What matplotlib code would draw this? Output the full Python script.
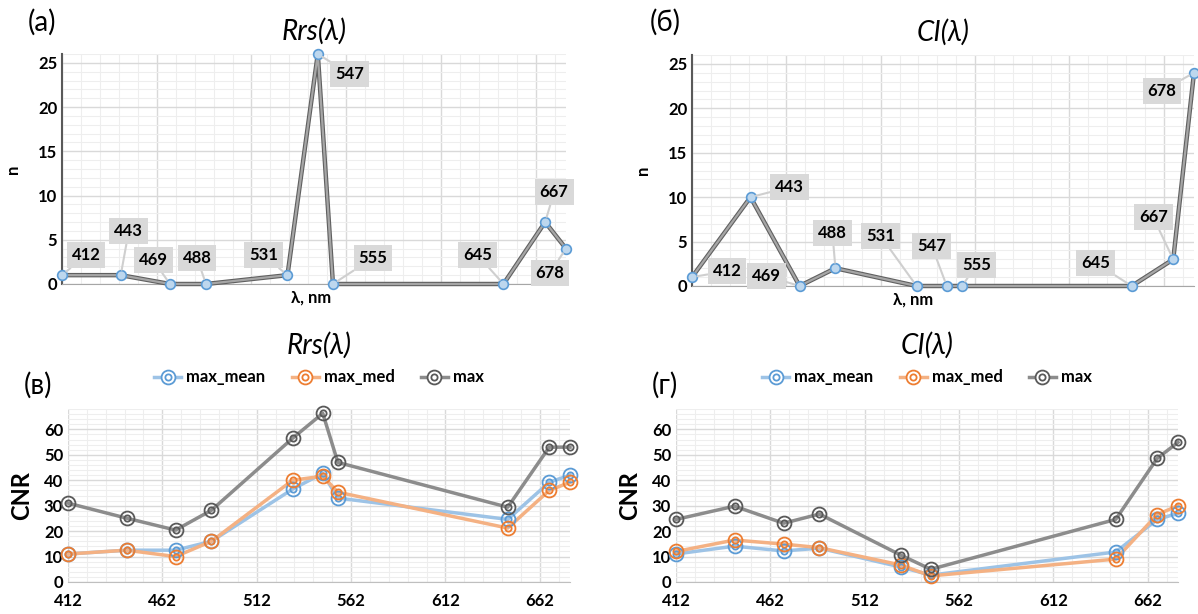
import numpy as np
import matplotlib
matplotlib.use('Agg')
import matplotlib.pyplot as plt
from matplotlib.lines import Line2D
from matplotlib.ticker import MultipleLocator

plt.rcParams['font.family'] = ['Lato', 'Open Sans', 'DejaVu Sans']

# wavelengths, nm
wl = [412, 443, 469, 488, 531, 547, 555, 645, 667, 678]
wl_ci = [412, 443, 469, 488, 531, 547, 645, 667, 678]

# top row: number of hits per band
n_rrs = [1, 1, 0, 0, 1, 26, 0, 0, 7, 4]
n_ci = [1, 10, 0, 2, 0, 0, 0, 0, 3, 24]

# label offsets (pixels) for the band labels
off_rrs = [(24, 20), (8, 44), (-17, 24), (-9, 26), (-24, 20), (32, -20),
           (40, 26), (-26, 29), (9, 30), (-16, -24)]
off_ci = [(35, 6), (39, 10), (-33, 10), (-3, 35), (-36, 50), (-15, 40),
          (15, 21), (-36, 23), (-20, 42), (-32, -18)]

# bottom row: CNR
rrs_mean = [11, 12.5, 12.5, 16, 36.5, 42.7, 33, 24.6, 39.2, 42]
rrs_med = [11, 12.5, 10, 16, 40, 41.6, 35.3, 21.2, 36, 39.2]
rrs_max = [31, 25.1, 20.4, 28.2, 56.5, 66.3, 47, 29.4, 53, 53]

ci_mean = [11, 14.1, 12.2, 13.3, 5.9, 2.7, 11.8, 24.6, 27]
ci_med = [12, 16.5, 14.9, 13.5, 6.7, 2.4, 9, 26.5, 30]
ci_max = [24.6, 29.8, 23.1, 26.7, 10.6, 5, 24.6, 48.6, 54.9]

series_names = ['max_mean', 'max_med', 'max']
series_cols = ['#5b9bd5', '#ed7d31', '#595959']
line_cols = ['#9dc3e6', '#f4b183', '#8c8c8c']

fig = plt.figure(figsize=(11.98, 6.14), dpi=100)
W, H = 1198., 614.

def px_axes(x0, x1, y_top, y_bot):
    return fig.add_axes([x0 / W, 1 - y_bot / H, (x1 - x0) / W, (y_bot - y_top) / H])

def grid_setup(ax, ymaj, ymin):
    ax.set_xlim(412, 678)
    ax.xaxis.set_major_locator(MultipleLocator(50, offset=412))
    ax.xaxis.set_minor_locator(MultipleLocator(10, offset=412))
    ax.yaxis.set_major_locator(MultipleLocator(ymaj))
    ax.yaxis.set_minor_locator(MultipleLocator(ymin))
    ax.grid(which='major', color='#d9d9d9', lw=1.0)
    ax.grid(which='minor', color='#eeeeee', lw=0.8)
    ax.set_axisbelow(True)
    for s in ['top', 'right']:
        ax.spines[s].set_visible(False)
    ax.tick_params(which='both', length=0)
    for t in ax.get_yticklabels():
        t.set_fontweight('bold')
        t.set_fontsize(12)

def top_panel(ax, vals, offs, title, xlab_x):
    grid_setup(ax, 5, 1)
    ax.set_ylim(0, 26)
    ax.set_xticklabels([])
    ax.spines['left'].set_color('#595959')
    ax.spines['left'].set_linewidth(1.5)
    ax.spines['bottom'].set_color('#a6a6a6')
    ax.plot(wl, vals, color='#606060', lw=3.2, zorder=3, clip_on=False)
    ax.plot(wl, vals, color='#a6a6a6', lw=1.6, zorder=3, clip_on=False)
    ax.plot(wl, vals, ls='', marker='o', ms=7, mfc='#bdd7ee', mec='#5b9bd5',
            mew=1.2, zorder=4, clip_on=False)
    for x, y, (dx, dy) in zip(wl, vals, offs):
        ax.annotate(str(x), (x, y), xytext=(dx, dy), textcoords='offset pixels',
                    ha='center', va='center', fontsize=12, fontweight='bold',
                    bbox=dict(boxstyle='square,pad=0.3', fc='#d9d9d9', ec='none'),
                    arrowprops=dict(arrowstyle='-', color='#cfcfcf', lw=1.5,
                                    shrinkA=0, shrinkB=4),
                    zorder=5, annotation_clip=False)
    ax.set_ylabel('n', fontweight='bold', fontsize=12, labelpad=12)
    ax.set_xlabel('λ, nm', fontweight='bold', fontsize=12, labelpad=2)
    ax.xaxis.set_label_coords(xlab_x, -0.025, transform=ax.transAxes)
    ax.set_title(title, fontsize=20, fontstyle='italic', pad=10)

def bottom_panel(ax, x, series, title):
    grid_setup(ax, 10, 2)
    ax.set_ylim(0, 68)
    ax.spines['left'].set_visible(False)
    ax.spines['bottom'].set_color('#bfbfbf')
    ax.set_xticks([412, 462, 512, 562, 612, 662])
    ax.tick_params(axis='x', pad=8)
    for t in ax.get_xticklabels():
        t.set_fontweight('bold')
        t.set_fontsize(12)
    handles = []
    for vals, c, lc, name in zip(series, series_cols, line_cols, series_names):
        ax.plot(x, vals, color=lc, lw=2.5, zorder=3, clip_on=False)
        ax.plot(x, vals, ls='', marker='o', ms=10, mfc='none', mec=c, mew=1.3,
                zorder=4, clip_on=False)
        ax.plot(x, vals, ls='', marker='o', ms=4.5, mfc='none', mec=c, mew=1.3,
                zorder=4, clip_on=False)
        h1 = Line2D([], [], color=lc, lw=2.5, marker='o', ms=10, mfc='white',
                    mec=c, mew=1.3)
        h2 = Line2D([], [], ls='', marker='o', ms=4.5, mfc='none', mec=c, mew=1.3)
        handles.append((h1, h2))
    ax.legend(handles, series_names, ncol=3, loc='lower center',
              bbox_to_anchor=(0.5, 1.05), frameon=False, handlelength=1.6,
              handletextpad=0.3, columnspacing=1.6,
              prop=dict(weight='bold', size=12))
    ax.set_ylabel('CNR', fontweight='bold', fontsize=17, labelpad=8)
    ax.set_title(title, fontsize=20, fontstyle='italic', pad=40)

ax_a = px_axes(62, 566, 54, 284)
top_panel(ax_a, n_rrs, off_rrs, 'Rrs(λ)', 0.495)
ax_b = px_axes(692, 1194, 55, 286)
top_panel(ax_b, n_ci, off_ci, 'CI(λ)', 0.44)

ax_c = px_axes(68, 570, 409, 582)
bottom_panel(ax_c, wl, [rrs_mean, rrs_med, rrs_max], 'Rrs(λ)')
ax_d = px_axes(676, 1178, 409, 582)
bottom_panel(ax_d, wl_ci, [ci_mean, ci_med, ci_max], 'CI(λ)')

for tag, x, y in [('(а)', 42, 22), ('(б)', 665, 22), ('(в)', 38, 385), ('(г)', 665, 385)]:
    fig.text(x / W, 1 - y / H, tag, fontsize=20, ha='center', va='center')

fig.savefig('out.png', dpi=100)
